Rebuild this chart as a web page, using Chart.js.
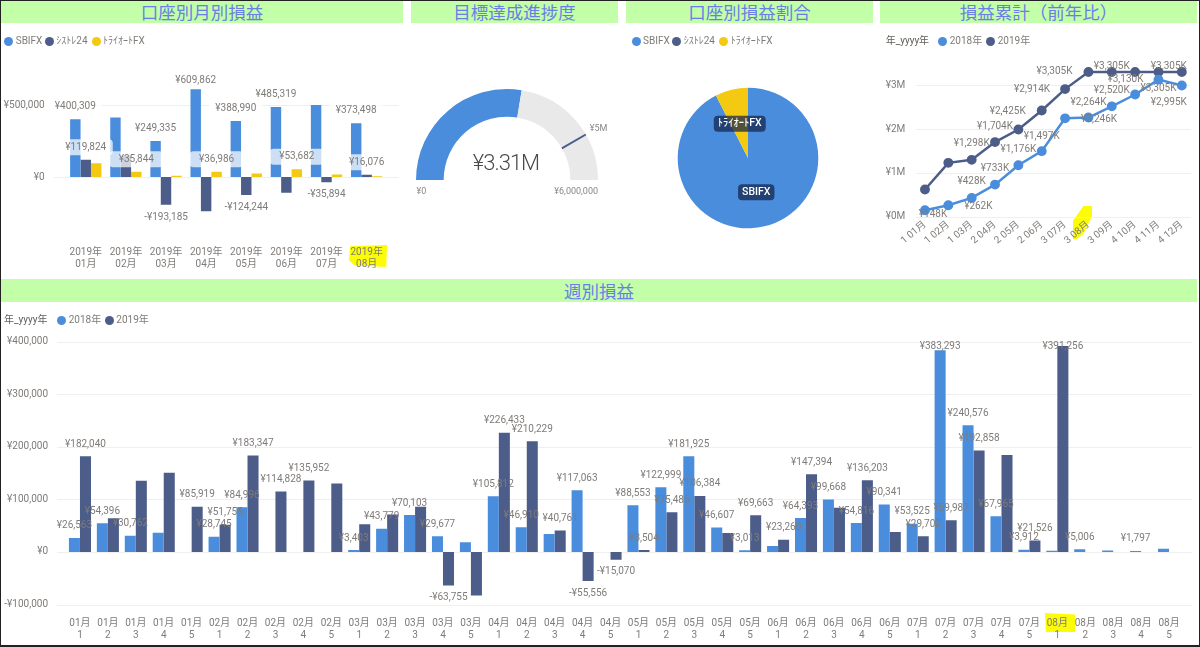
<!DOCTYPE html>
<html>
<head>
  <meta charset="utf-8">
  <title>損益ダッシュボード</title>
  <script src="https://cdn.jsdelivr.net/npm/chart.js"></script>
  <style>
    html, body { margin: 0; padding: 0; background: #fff; }
    #page { position: relative; width: 1200px; height: 647px; overflow: hidden;
            font-family: Roboto, "Noto Sans CJK JP", sans-serif; color: #7f7b78; }
    #frame { position: absolute; left: 0; top: 0; width: 1198px; height: 644px;
             border: 1px solid #222; border-bottom-width: 2px; pointer-events: none; }
    canvas { position: absolute; }
    .band { position: absolute; background: #c2ffa8; color: #6a7ee6; text-align: center;
            font-family: "Noto Sans CJK JP", sans-serif; font-size: 17.5px; line-height: 22px; height: 22px; }
    .dot { position: absolute; width: 9px; height: 9px; border-radius: 50%; }
    .leg { position: absolute; font-size: 10px; line-height: 14px; white-space: nowrap; }
    .blob { position: absolute; background: #fcfc06; }
  </style>
</head>
<body>
<div id="page">
  <div class="band" style="left:1px;top:1px;width:402px">口座別月別損益</div>
  <div class="band" style="left:411px;top:1px;width:207px">目標達成進捗度</div>
  <div class="band" style="left:626px;top:1px;width:247px">口座別損益割合</div>
  <div class="band" style="left:880px;top:1px;width:317px">損益累計（前年比）</div>
  <div class="band" style="left:1px;top:279px;width:1196px;height:23px;line-height:24px">週別損益</div>

  <!-- hand drawn yellow marks, sit under the tick text -->
  <div class="blob" style="left:349px;top:245px;width:38px;height:22px;clip-path:polygon(3% 6%,100% 0,98% 100%,14% 92%,0 70%)"></div>
  <div class="blob" style="left:1045px;top:613px;width:30px;height:19px;clip-path:polygon(0 0,100% 8%,100% 100%,3% 100%)"></div>
  <div class="blob" style="left:1073px;top:206px;width:19px;height:33px;clip-path:polygon(55% 0,100% 0,100% 30%,55% 85%,20% 100%,0 100%,0 45%)"></div>

  <canvas id="monthlyChart" width="405" height="215" style="left:0;top:60px"></canvas>
  <canvas id="gaugeChart" width="240" height="149" style="left:387px;top:60px"></canvas>
  <canvas id="pieChart" width="240" height="196" style="left:628px;top:60px"></canvas>
  <canvas id="lineChart" width="330" height="200" style="left:870px;top:60px"></canvas>
  <canvas id="weeklyChart" width="1200" height="315" style="left:0;top:330px"></canvas>
  <div id="frame"></div>
</div>

<script>
  const BLUE = '#4A8DDC', NAVY = '#4C5D8A', YELLOW = '#F3C911';
  const TEXT = '#7f7b78', GRID = '#efefef';
  const FONT = 'Roboto, "Noto Sans CJK JP", sans-serif';

  // monthly P/L per account
  const monthCategories = [['2019年', '01月'], ['2019年', '02月'], ['2019年', '03月'], ['2019年', '04月'],
                           ['2019年', '05月'], ['2019年', '06月'], ['2019年', '07月'], ['2019年', '08月']];
  const accountNames = ['SBIFX', 'ｼｽﾄﾚ24', 'ﾄﾗｲｵｰﾄFX'];
  const sbiValues = [400309, 414000, 249335, 609862, 388990, 485319, 500000, 373498];
  const sysValues = [119824, 150000, -193185, -238000, -124244, -109000, -35894, 16076];
  const triValues = [95000, 35844, 8000, 36986, 25000, 53682, 18000, 6000];
  const sbiLabeled = [0, 2, 3, 4, 5, 7];
  const sysLabeled = [0, 2, 4, 6, 7];
  const triLabeled = [1, 3, 5];
  const monthTicks = [0, 500000];

  // goal gauge
  const gaugeValues = [3310000, 2690000];
  const gaugeTarget = 5000000;
  const gaugeMax = 6000000;

  // share per account
  const pieValues = [3420000, 0, 279000];

  // cumulative P/L, in thousands of yen
  const cumCategories = ['1 01月', '1 02月', '1 03月', '2 04月', '2 05月', '2 06月',
                         '3 07月', '3 08月', '3 09月', '4 10月', '4 11月', '4 12月'];
  const yearNames = ['2018年', '2019年'];
  const cum2018 = [148, 262, 428, 733, 1176, 1497, 2246, 2264, 2520, 2790, 3130, 2995];
  const cum2019 = [620, 1230, 1298, 1704, 1990, 2425, 2914, 3305, 3305, 3305, 3305, 3305];
  const cumTicks = [0, 1000, 2000, 3000];

  // weekly P/L
  const weekMonths = ['01月', '02月', '03月', '04月', '05月', '06月', '07月', '08月'];
  const weekNumbers = ['1', '2', '3', '4', '5'];
  const week2018 = [26563, 54396, 30762, 36500, null,
                    28745, 84996, null, null, null,
                    3403, 43779, 70103, 29677, 18500,
                    105812, 46910, 34000, 117063, null,
                    88553, 122999, 181925, 46607, 3013,
                    11000, 64393, 99668, 54816, 90341,
                    53525, 383293, 240576, 67965, 3912,
                    2000, 5006, 2500, 1797, 6000];
  const week2019 = [182040, 64000, 135293, 150500, 85919,
                    51755, 183347, 114828, 135952, 130000,
                    52700, 71000, 86000, -63755, -83000,
                    226433, 210229, 40761, -55556, -15070,
                    3504, 75485, 106384, 36000, 69663,
                    23260, 147394, 84000, 136203, 38000,
                    29702, 59987, 192858, 184000, 21526,
                    391256, null, null, null, null];
  const week2018Labeled = [0, 1, 2, 5, 6, 10, 11, 12, 13, 15, 16, 18, 20, 21, 22, 23, 24,
                           26, 27, 28, 29, 30, 31, 32, 33, 34, 36, 38];
  const week2019Labeled = [0, 4, 5, 6, 7, 8, 13, 15, 16, 17, 18, 19, 20, 21, 22, 24, 25,
                           26, 28, 30, 31, 32, 34, 35];
  const weekTicks = [-100000, 0, 100000, 200000, 300000, 400000];

  const weekCategories = [];
  weekMonths.forEach(m => weekNumbers.forEach(n => weekCategories.push([m, n])));

  Chart.defaults.font.family = FONT;
  Chart.defaults.font.size = 10;
  Chart.defaults.color = TEXT;
  Chart.defaults.animation = false;
  Chart.defaults.responsive = false;
  Chart.defaults.plugins.legend.display = false;
  Chart.defaults.plugins.tooltip.enabled = false;

  const noGrid = { display: false, drawTicks: false };

  function yen(v) {
    return (v < 0 ? '-' : '') + '¥' + Math.abs(v).toLocaleString('en-US');
  }

  // gridlines run a bit past the plot area in the original
  const wideGrid = {
    id: 'wideGrid',
    beforeDatasetsDraw(chart, args, opts) {
      const { ctx, chartArea, scales } = chart;
      ctx.save();
      ctx.strokeStyle = GRID;
      ctx.lineWidth = 1;
      scales.y.ticks.forEach(t => {
        const y = Math.round(scales.y.getPixelForValue(t.value)) + 0.5;
        ctx.beginPath();
        ctx.moveTo(chartArea.left - opts.left, y);
        ctx.lineTo(chartArea.right + opts.right, y);
        ctx.stroke();
      });
      ctx.restore();
    }
  };

  // value labels above (or below) the chosen bars
  const barLabels = {
    id: 'barLabels',
    afterDatasetsDraw(chart, args, opts) {
      const { ctx, chartArea } = chart;
      ctx.save();
      ctx.font = '10px ' + FONT;
      ctx.textAlign = 'center';
      ctx.textBaseline = 'middle';
      chart.data.datasets.forEach((ds, d) => {
        const bars = chart.getDatasetMeta(d).data;
        opts.shown[d].forEach(i => {
          const v = ds.data[i];
          const y = Math.max(bars[i].y + (v < 0 ? opts.gap : -opts.gap), chartArea.top + 4.5);
          const x = bars[i].x;
          if (opts.pill) {
            ctx.fillStyle = 'rgba(255,255,255,0.72)';
            ctx.beginPath();
            ctx.roundRect(x - 27, y - 8, 54, 16, 4);
            ctx.fill();
          }
          ctx.fillStyle = TEXT;
          ctx.fillText(yen(v), x, y);
        });
      });
      ctx.restore();
    }
  };

  // the cumulative labels sit all over the place, so each has its own offset
  const pointLabels = {
    id: 'pointLabels',
    afterDatasetsDraw(chart, args, opts) {
      const { ctx } = chart;
      ctx.save();
      ctx.font = '10px ' + FONT;
      ctx.textAlign = 'center';
      ctx.textBaseline = 'middle';
      ctx.fillStyle = TEXT;
      chart.data.datasets.forEach((ds, d) => {
        const pts = chart.getDatasetMeta(d).data;
        opts.offsets[d].forEach(([i, dx, dy]) => {
          ctx.fillText(yen(ds.data[i]) + 'K', pts[i].x + dx, pts[i].y + dy);
        });
      });
      ctx.restore();
    }
  };

  const gaugeDecor = {
    id: 'gaugeDecor',
    afterDatasetsDraw(chart) {
      const { ctx } = chart;
      const arc = chart.getDatasetMeta(0).data[0];
      const { x, y, innerRadius, outerRadius } = arc.getProps(['x', 'y', 'innerRadius', 'outerRadius'], true);
      const a = Math.PI - (gaugeTarget / gaugeMax) * Math.PI;
      ctx.save();
      ctx.strokeStyle = NAVY;
      ctx.lineWidth = 2;
      ctx.beginPath();
      ctx.moveTo(x + Math.cos(a) * innerRadius, y - Math.sin(a) * innerRadius);
      ctx.lineTo(x + Math.cos(a) * outerRadius, y - Math.sin(a) * outerRadius);
      ctx.stroke();

      ctx.textBaseline = 'middle';
      ctx.fillStyle = '#8a8683';
      ctx.font = '9px ' + FONT;
      ctx.textAlign = 'left';
      ctx.fillText('¥0', x - outerRadius + 0.5, y + 12);
      ctx.fillText('¥5M', x + Math.cos(a) * outerRadius + 4, y - 51);
      ctx.textAlign = 'right';
      ctx.fillText(yen(gaugeMax), x + outerRadius, y + 12);

      ctx.fillStyle = '#4a4a4a';
      ctx.font = '300 22px ' + FONT;
      ctx.letterSpacing = '-1px';
      ctx.textAlign = 'center';
      ctx.fillText('¥3.31M', x - 1, y - 16);
      ctx.restore();
    }
  };

  const pieTags = {
    id: 'pieTags',
    afterDatasetsDraw(chart) {
      const { ctx } = chart;
      ctx.save();
      ctx.font = '500 10.5px ' + FONT;
      ctx.textAlign = 'center';
      ctx.textBaseline = 'middle';
      chart.getDatasetMeta(0).data.forEach((arc, i) => {
        if (!pieValues[i]) return;
        const c = arc.getCenterPoint();
        const w = ctx.measureText(accountNames[i]).width + 8;
        ctx.fillStyle = 'rgba(20,35,72,0.72)';
        ctx.beginPath();
        ctx.roundRect(c.x - w / 2, c.y - 8, w, 16, 4);
        ctx.fill();
        ctx.fillStyle = '#fff';
        ctx.fillText(accountNames[i], c.x, c.y);
      });
      ctx.restore();
    }
  };

  // fixed axis sizes so the plot areas land where the original has them
  function fixedWidth(w) {
    return scale => { scale.width = w; scale.paddingTop = 0; scale.paddingBottom = 0; };
  }
  function fixedHeight(h) {
    return scale => { scale.height = h; scale.paddingLeft = 0; scale.paddingRight = 0; };
  }
  function useTicks(list) { return scale => { scale.ticks = list.map(v => ({ value: v })); }; }

  new Chart(document.getElementById('monthlyChart'), {
    type: 'bar',
    data: {
      labels: monthCategories,
      datasets: [
        { label: accountNames[0], data: sbiValues, backgroundColor: BLUE },
        { label: accountNames[1], data: sysValues, backgroundColor: NAVY },
        { label: accountNames[2], data: triValues, backgroundColor: YELLOW }
      ]
    },
    options: {
      layout: { padding: { top: 16.2, right: 18.3, left: 0, bottom: 0 } },
      datasets: { bar: { categoryPercentage: 0.78, barPercentage: 1 } },
      scales: {
        x: { grid: noGrid, border: { display: false }, afterFit: fixedHeight(54.8),
             ticks: { maxRotation: 0, autoSkip: false, padding: 26 } },
        y: { min: -300000, max: 700000, grid: noGrid, border: { display: false },
             afterBuildTicks: useTicks(monthTicks), afterFit: fixedWidth(65.7),
             ticks: { padding: 21, callback: v => yen(v) } }
      },
      plugins: {
        wideGrid: { left: 11.7, right: 12.3 },
        barLabels: { shown: [sbiLabeled, sysLabeled, triLabeled], gap: 12.5, pill: true }
      }
    },
    plugins: [wideGrid, barLabels]
  });

  new Chart(document.getElementById('gaugeChart'), {
    type: 'doughnut',
    data: { datasets: [{ data: gaugeValues, backgroundColor: [BLUE, '#E9E9E9'], borderWidth: 0 }] },
    options: { rotation: -90, circumference: 180, radius: 91, cutout: '69.6%' },
    plugins: [gaugeDecor]
  });

  new Chart(document.getElementById('pieChart'), {
    type: 'pie',
    data: { labels: accountNames,
            datasets: [{ data: pieValues, backgroundColor: [BLUE, NAVY, YELLOW], borderWidth: 0 }] },
    options: { radius: 70.3 },
    plugins: [pieTags]
  });

  new Chart(document.getElementById('lineChart'), {
    type: 'line',
    data: {
      labels: cumCategories,
      datasets: [
        { label: yearNames[0], data: cum2018, borderColor: BLUE, backgroundColor: BLUE,
          borderWidth: 2.5, pointRadius: 3.7, tension: 0 },
        { label: yearNames[1], data: cum2019, borderColor: NAVY, backgroundColor: NAVY,
          borderWidth: 2.5, pointRadius: 3.7, tension: 0 }
      ]
    },
    options: {
      layout: { padding: { top: 2.3, right: 5.6, left: 0, bottom: 0 } },
      scales: {
        x: { offset: true, grid: noGrid, border: { display: false }, afterFit: fixedHeight(43.3),
             ticks: { minRotation: 40, maxRotation: 40, autoSkip: false, padding: 2 } },
        y: { min: 0, max: 3430, grid: noGrid, border: { display: false },
             afterBuildTicks: useTicks(cumTicks), afterFit: fixedWidth(43.3),
             ticks: { padding: 8, callback: v => '¥' + v / 1000 + 'M' } }
      },
      plugins: {
        wideGrid: { left: -2.4, right: -2.4 },
        pointLabels: {
          offsets: [
            [[0, 8, 4], [1, 30, 1], [2, 0, -16], [3, 0, -16], [4, 0, -16], [5, 0, -15],
             [6, 34, 1], [7, 0, -15], [8, 0, -16], [10, -33, 0], [11, -13, 17]],
            [[2, 0, -16], [3, 0, -16], [5, -34, 1], [6, -33, 0], [7, -34, 0], [8, 0, -5],
             [10, 0, 17], [11, -13, -5]]
          ]
        }
      }
    },
    plugins: [wideGrid, pointLabels]
  });

  new Chart(document.getElementById('weeklyChart'), {
    type: 'bar',
    data: {
      labels: weekCategories,
      datasets: [
        { label: yearNames[0], data: week2018, backgroundColor: BLUE },
        { label: yearNames[1], data: week2019, backgroundColor: NAVY }
      ]
    },
    options: {
      layout: { padding: { top: 11.5, right: 17, left: 0, bottom: 0 } },
      datasets: { bar: { categoryPercentage: 0.79, barPercentage: 1 } },
      scales: {
        x: { grid: noGrid, border: { display: false }, afterFit: fixedHeight(40.5),
             ticks: { maxRotation: 0, autoSkip: false, padding: 13 } },
        y: { min: -100000, max: 400000, grid: noGrid, border: { display: false },
             afterBuildTicks: useTicks(weekTicks), afterFit: fixedWidth(66),
             ticks: { padding: 18, callback: v => yen(v) } }
      },
      plugins: {
        wideGrid: { left: 9, right: 9 },
        barLabels: { shown: [week2018Labeled, week2019Labeled], gap: 12, pill: false }
      }
    },
    plugins: [wideGrid, barLabels]
  });

  // legends as plain text next to the charts
  function addLegend(top, title, items) {
    const page = document.getElementById('page');
    if (title) {
      const t = document.createElement('div');
      t.className = 'leg';
      t.style.left = title[1] + 'px';
      t.style.top = (top - 7) + 'px';
      t.style.color = '#605c58';
      t.textContent = title[0];
      page.appendChild(t);
    }
    items.forEach(([name, color, x]) => {
      const d = document.createElement('div');
      d.className = 'dot';
      d.style.cssText = 'left:' + (x - 4.5) + 'px;top:' + (top - 4.5) + 'px;background:' + color;
      page.appendChild(d);
      const t = document.createElement('div');
      t.className = 'leg';
      t.style.left = (x + 7) + 'px';
      t.style.top = (top - 7) + 'px';
      t.textContent = name;
      page.appendChild(t);
    });
  }
  addLegend(41, null, [[accountNames[0], BLUE, 8.7], [accountNames[1], NAVY, 49.3], [accountNames[2], YELLOW, 96]]);
  addLegend(41, null, [[accountNames[0], BLUE, 636], [accountNames[1], NAVY, 676.7], [accountNames[2], YELLOW, 723.7]]);
  addLegend(41, ['年_yyyy年', 885.7], [[yearNames[0], BLUE, 942.7], [yearNames[1], NAVY, 990.7]]);
  addLegend(320, ['年_yyyy年', 4], [[yearNames[0], BLUE, 61.7], [yearNames[1], NAVY, 109.3]]);
</script>
</body>
</html>
